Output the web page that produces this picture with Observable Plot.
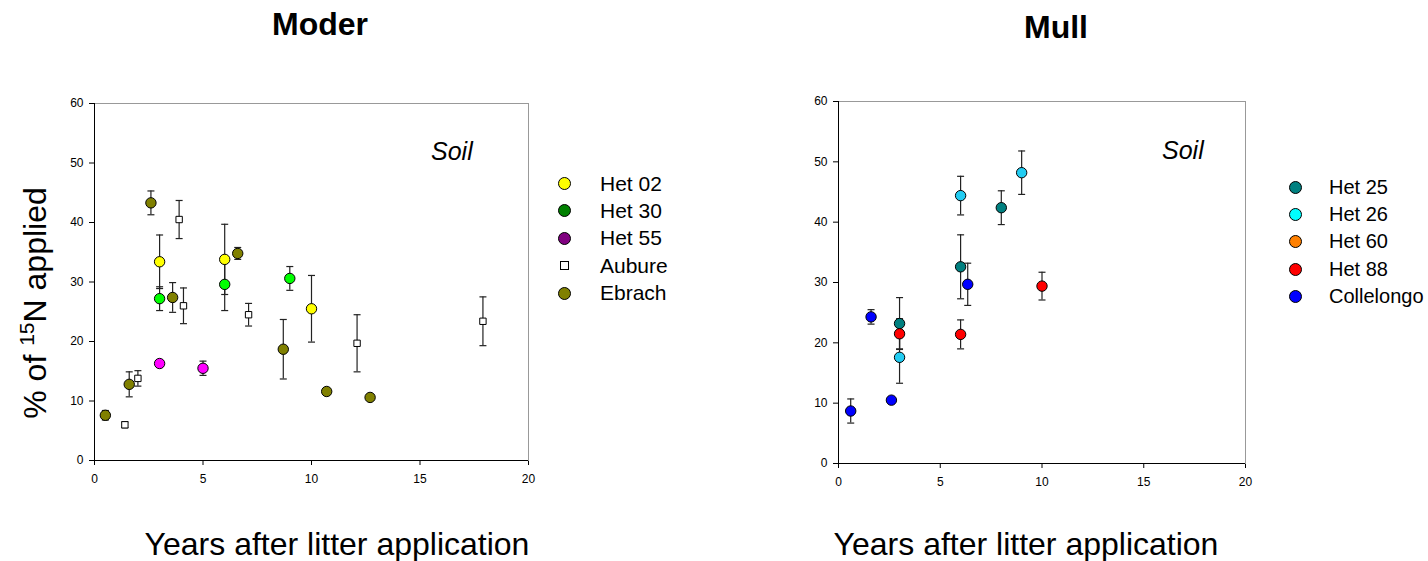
<!DOCTYPE html>
<html>
<head>
<meta charset="utf-8">
<script src="https://cdn.jsdelivr.net/npm/d3@7"></script>
<script src="https://cdn.jsdelivr.net/npm/@observablehq/plot@0.6"></script>
<style>
  html, body { margin: 0; padding: 0; background: #fff; }
  #root { position: relative; width: 1428px; height: 561px; overflow: hidden; font-family: "Liberation Sans", Arial, sans-serif; color: #000; }
  .abs { position: absolute; white-space: nowrap; }
  .title { font-weight: bold; font-size: 32px; transform: translateX(-50%); }
  .xlab { font-size: 32px; transform: translateX(-50%); }
  .soil { font-style: italic; font-size: 25px; }
  .leg { font-size: 21px; display: flex; align-items: center; height: 27px; }
  .mk { display: inline-block; box-sizing: border-box; border: 1.5px solid #000; }
</style>
</head>
<body>
<div id="root"></div>
<script>
// ---------- data ----------
const xTicks = [0, 5, 10, 15, 20];
const yTicks = [0, 10, 20, 30, 40, 50, 60];

// Moder panel
const moderSeries = ["Het 02", "Het 30", "Het 55", "Aubure", "Ebrach"];
const moderLegendColors = ["#ffff00", "#008000", "#800080", "#ffffff", "#808000"];
const moderPointColors = ["#ffff00", "#00ff00", "#ff00ff", "#ffffff", "#808000"];
const moderSite = ["Het 02","Het 02","Het 02",
  "Het 30","Het 30","Het 30",
  "Het 55","Het 55",
  "Aubure","Aubure","Aubure","Aubure","Aubure","Aubure","Aubure",
  "Ebrach","Ebrach","Ebrach","Ebrach","Ebrach","Ebrach","Ebrach","Ebrach"];
const moderX = [3, 6, 10,
  3, 6, 9,
  3, 5,
  1.4, 2.0, 3.9, 4.1, 7.1, 12.1, 17.9,
  0.5, 1.6, 2.6, 3.6, 6.6, 8.7, 10.7, 12.7];
const moderY = [33.4, 33.8, 25.5,
  27.2, 29.6, 30.6,
  16.3, 15.5,
  6.0, 13.8, 40.5, 26.0, 24.5, 19.7, 23.4,
  7.6, 12.8, 43.3, 27.4, 34.8, 18.7, 11.6, 10.6];
const moderErr = [4.5, 5.9, 5.6,
  2.0, 4.4, 2.0,
  0, 1.2,
  0.5, 1.3, 3.2, 3.0, 1.9, 4.8, 4.1,
  0.8, 2.1, 2.0, 2.5, 1.0, 5.0, 0, 0];

// Mull panel
const mullSeries = ["Het 25", "Het 26", "Het 60", "Het 88", "Collelongo"];
const mullLegendColors = ["#008080", "#00ffff", "#ff8000", "#ff0000", "#0000ff"];
const mullPointColors = ["#008080", "#22ccf2", "#ff8000", "#ff0000", "#0000ff"];
const mullSite = ["Het 25","Het 25","Het 25",
  "Het 26","Het 26","Het 26",
  "Het 88","Het 88","Het 88",
  "Collelongo","Collelongo","Collelongo","Collelongo"];
const mullX = [3, 6, 8,
  3, 6, 9,
  3, 6, 10,
  0.6, 1.6, 2.6, 6.35];
const mullY = [23.2, 32.6, 42.4,
  17.6, 44.4, 48.2,
  21.5, 21.4, 29.4,
  8.7, 24.3, 10.5, 29.7];
const mullErr = [4.3, 5.3, 2.8,
  4.3, 3.2, 3.6,
  2.5, 2.4, 2.3,
  2.0, 1.2, 0, 3.5];

// ---------- build ----------
const root = document.getElementById("root");

function rows(site, xs, ys, es, series, colors) {
  return site.map((s, i) => ({
    site: s, x: xs[i], y: ys[i], e: es[i],
    color: colors[series.indexOf(s)], order: series.indexOf(s)
  })).sort((a, b) => a.order - b.order);
}

const capSymbol = {
  draw(context) { context.moveTo(-3.5, 0); context.lineTo(3.5, 0); }
};

function panel(data, opts) {
  const withErr = data.filter(d => d.e > 0);
  const circles = data.filter(d => d.site !== "Aubure");
  const squares = data.filter(d => d.site === "Aubure");
  return Plot.plot({
    width: opts.width, height: 561,
    marginLeft: opts.ml, marginRight: opts.mr, marginTop: opts.mt, marginBottom: opts.mb,
    x: { domain: [0, 20], ticks: xTicks, tickSize: 5, tickPadding: 9, label: null },
    y: { domain: [0, 60], ticks: yTicks, tickSize: 5, tickPadding: 6, label: null },
    color: { type: "identity" },
    style: { fontFamily: "Liberation Sans, Arial, sans-serif", fontSize: "12px", background: "transparent", color: "#000", overflow: "visible" },
    marks: [
      Plot.frame({ stroke: "#999", strokeWidth: 1 }),
      Plot.ruleX([0], { stroke: "#000" }),
      Plot.ruleY([0], { stroke: "#000" }),
      Plot.ruleX(withErr, { x: "x", y1: d => d.y - d.e, y2: d => d.y + d.e, stroke: "#222", strokeWidth: 1.2 }),
      Plot.dot(withErr, { x: "x", y: d => d.y + d.e, symbol: capSymbol, fill: "none", stroke: "#222", strokeWidth: 1.2 }),
      Plot.dot(withErr, { x: "x", y: d => d.y - d.e, symbol: capSymbol, fill: "none", stroke: "#222", strokeWidth: 1.2 }),
      Plot.dot(squares, { x: "x", y: "y", symbol: "square", r: 3.6, fill: "#fff", stroke: "#000", strokeWidth: 1 }),
      Plot.dot(circles, { x: "x", y: "y", r: 5.2, fill: "color", stroke: "#000", strokeWidth: 1 })
    ]
  });
}

function place(el, left, top) {
  el.style.position = "absolute";
  el.style.left = left + "px";
  el.style.top = top + "px";
  root.appendChild(el);
}

function text(cls, html, left, top, extra) {
  const d = document.createElement("div");
  d.className = "abs " + cls;
  d.innerHTML = html;
  d.style.left = left + "px";
  d.style.top = top + "px";
  if (extra) Object.assign(d.style, extra);
  root.appendChild(d);
  return d;
}

function legend(series, colors, left, top, step, fontSize, gap) {
  series.forEach((s, i) => {
    const row = document.createElement("div");
    row.className = "abs leg";
    row.style.left = left + "px";
    row.style.top = (top + i * step) + "px";
    row.style.fontSize = fontSize + "px";
    const m = document.createElement("span");
    m.className = "mk";
    if (s === "Aubure") {
      m.style.width = "9px"; m.style.height = "9px"; m.style.marginLeft = "2px"; m.style.marginRight = (gap + 2) + "px";
      m.style.borderWidth = "1.2px";
      m.style.background = colors[i];
    } else {
      m.style.width = "13px"; m.style.height = "13px"; m.style.borderRadius = "50%"; m.style.marginRight = gap + "px";
      m.style.background = colors[i];
    }
    row.appendChild(m);
    const t = document.createElement("span");
    t.textContent = s;
    row.appendChild(t);
    root.appendChild(row);
  });
}

const moderData = rows(moderSite, moderX, moderY, moderErr, moderSeries, moderPointColors);
const mullData = rows(mullSite, mullX, mullY, mullErr, mullSeries, mullPointColors);

place(panel(moderData, { width: 700, ml: 94, mr: 172, mt: 103, mb: 101 }), 0, 0);
place(panel(mullData, { width: 728, ml: 138, mr: 183, mt: 101, mb: 98 }), 700, 0);

// titles
text("title", "Moder", 320, 6);
text("title", "Mull", 1056, 9);
// Soil labels
text("soil", "Soil", 431, 137);
text("soil", "Soil", 1162, 136);
// x labels
text("xlab", "Years after litter application", 337, 526);
text("xlab", "Years after litter application", 1026, 526);
// y label
text("xlab", "% of <sup style=\"font-size:21px;vertical-align:12px\">15</sup>N applied", 34, 303,
  { transform: "translate(-50%, -50%) rotate(-90deg)", transformOrigin: "center" });

// legends
legend(moderSeries, moderLegendColors, 558, 170, 27.4, 21, 29);
legend(mullSeries, mullLegendColors, 1289, 173.5, 27.4, 20, 27);
</script>
</body>
</html>
